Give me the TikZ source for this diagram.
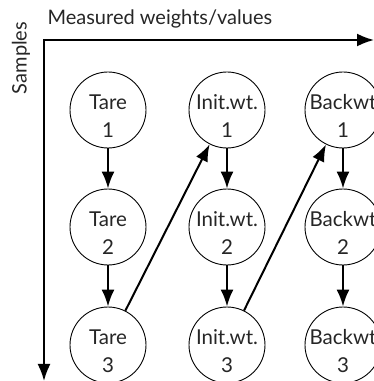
\documentclass[tikz,border=0pt]{standalone}
\usepackage{fontspec}
\setmainfont{Lato}
\usetikzlibrary{arrows.meta}
\begin{document}
\begin{tikzpicture}[x=1pt,y=1pt,
  circ/.style={circle, draw, line width=0.9pt, minimum size=76pt, inner sep=0pt},
  lbl/.style={align=center, text=black!85, font=\fontsize{20.5}{28}\selectfont, yshift=-6pt},
  arr/.style={line width=2pt, -{Latex[length=17pt,width=13pt]}}]
  \useasboundingbox (0,0) rectangle (374,381);
  % Axes (weights to the right, samples downwards)
  \coordinate (xend) at (374,341);
  \coordinate (o) at (44,341);
  \coordinate (yend) at (44,0);
  \draw[arr, {Latex[length=17pt,width=13pt]}-{Latex[length=17pt,width=13pt]}] (xend) -- (o) -- (yend);
  \node[anchor=west, text=black!85, font=\fontsize{20}{24}\selectfont] (xlab) at (44,362) {Measured weights/values};
  \node[rotate=90, text=black!85, font=\fontsize{20}{24}\selectfont] (ylab) at (21,323) {Samples};
  % Tare column
  \node[circ, label={[lbl]center:Tare\\1}] (t1) at (108,271) {};
  \node[circ, label={[lbl]center:Tare\\2}] (t2) at (108,154) {};
  \node[circ, label={[lbl]center:Tare\\3}] (t3) at (108,36) {};
  % Initial weight column
  \node[circ, label={[lbl]center:Init.wt.\\1}] (i1) at (227,271) {};
  \node[circ, label={[lbl]center:Init.wt.\\2}] (i2) at (227,154) {};
  \node[circ, label={[lbl]center:Init.wt.\\3}] (i3) at (227,36) {};
  % Backweigh column (cut off at the right edge)
  \node[circ, label={[lbl]center:Backwt\\1}] (b1) at (343,271) {};
  \node[circ, label={[lbl]center:Backwt\\2}] (b2) at (343,154) {};
  \node[circ, label={[lbl]center:Backwt\\3}] (b3) at (343,36) {};
  % Order of the weighings
  \draw[arr] (t1) -- (t2);
  \draw[arr] (t2) -- (t3);
  \draw[arr] (t3) -- (i1);
  \draw[arr] (i1) -- (i2);
  \draw[arr] (i2) -- (i3);
  \draw[arr] (i3) -- (b1);
  \draw[arr] (b1) -- (b2);
  \draw[arr] (b2) -- (b3);
\end{tikzpicture}
\end{document}
